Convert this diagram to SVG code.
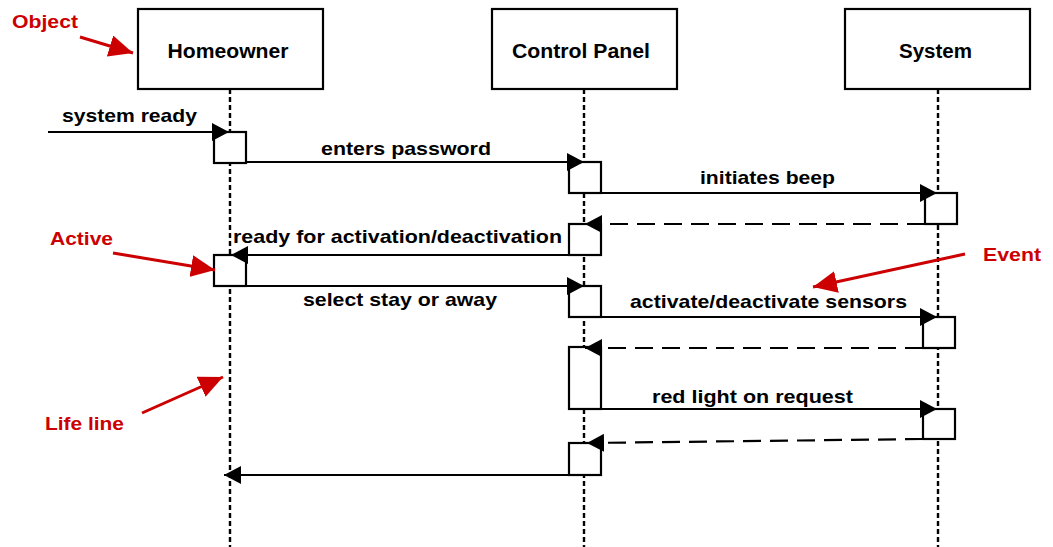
<svg xmlns="http://www.w3.org/2000/svg" width="1053" height="547" viewBox="0 0 1053 547">
<defs>
<style>
.obj{fill:#fff;stroke:#000;stroke-width:2.2}
.act{fill:#fff;stroke:#000;stroke-width:2.2}
.life{stroke:#000;stroke-width:2.4;stroke-dasharray:5 3;fill:none}
.msg{stroke:#000;stroke-width:2.2;fill:none;marker-end:url(#ah)}
.ret{stroke:#000;stroke-width:2.2;fill:none;stroke-dasharray:18 9;marker-end:url(#ah)}
.note{stroke:#cc0000;stroke-width:3;fill:none;marker-end:url(#rh)}
.t{font-family:"Liberation Sans",Arial,sans-serif;font-weight:bold;fill:#000}
.lbl{font-size:20px;text-anchor:middle}
.m{font-size:19px}
.r{font-family:"Liberation Sans",Arial,sans-serif;font-weight:bold;font-size:19px;fill:#cc0000}
</style>
<marker id="ah" markerUnits="userSpaceOnUse" markerWidth="17" markerHeight="18" refX="17" refY="9" orient="auto" viewBox="0 0 17 18">
<path d="M0,0 L17,9 L0,18 z" fill="#000"/>
</marker>
<marker id="rh" markerUnits="userSpaceOnUse" markerWidth="24" markerHeight="22" refX="24" refY="11" orient="auto" viewBox="0 0 24 22">
<path d="M0,0 L24,11 L0,22 z" fill="#cc0000"/>
</marker>
</defs>
<rect width="1053" height="547" fill="#fff"/>

<g id="lifelines">
<line class="life" x1="230" y1="89" x2="230" y2="547"/>
<line class="life" x1="584" y1="89" x2="584" y2="547"/>
<line class="life" x1="938" y1="89" x2="938" y2="547"/>
</g>

<g id="homeowner">
<rect class="obj" x="138" y="9" width="185" height="80"/>
<text class="t lbl" x="228" y="58" textLength="121" lengthAdjust="spacingAndGlyphs">Homeowner</text>
</g>
<g id="control-panel">
<rect class="obj" x="492" y="9" width="185" height="80"/>
<text class="t lbl" x="581" y="58" textLength="138" lengthAdjust="spacingAndGlyphs">Control Panel</text>
</g>
<g id="system">
<rect class="obj" x="845" y="9" width="185" height="80"/>
<text class="t lbl" x="935.5" y="58" textLength="73" lengthAdjust="spacingAndGlyphs">System</text>
</g>

<g id="activations">
<rect class="act" x="214" y="132" width="32" height="31"/>
<rect class="act" x="214" y="255" width="32" height="31"/>
<rect class="act" x="569" y="162" width="32" height="31"/>
<rect class="act" x="569" y="224" width="32" height="31"/>
<rect class="act" x="569" y="286" width="32" height="31"/>
<rect class="act" x="569" y="347" width="32" height="62"/>
<rect class="act" x="569" y="443" width="32" height="32"/>
<rect class="act" x="925" y="193" width="32" height="31"/>
<rect class="act" x="923" y="317" width="32" height="31"/>
<rect class="act" x="923" y="409" width="32" height="30"/>
</g>

<g id="connectors">
<line class="msg" x1="48" y1="132" x2="229" y2="132"/>
<line class="msg" x1="246" y1="162" x2="584" y2="162"/>
<line class="msg" x1="601" y1="193" x2="937" y2="193"/>
<line class="ret" x1="925" y1="224" x2="585" y2="224"/>
<line class="msg" x1="569" y1="255" x2="231" y2="255"/>
<line class="msg" x1="246" y1="286" x2="584" y2="286"/>
<line class="msg" x1="601" y1="317" x2="937" y2="317"/>
<line class="ret" x1="923" y1="348" x2="585" y2="348"/>
<line class="msg" x1="601" y1="409" x2="937" y2="409"/>
<line class="ret" x1="923" y1="439" x2="587" y2="443"/>
<line class="msg" x1="569" y1="475" x2="224" y2="475"/>
</g>

<g id="message-labels">
<text class="t m" x="62" y="122" textLength="135" lengthAdjust="spacingAndGlyphs">system ready</text>
<text class="t m" x="321" y="155" textLength="170" lengthAdjust="spacingAndGlyphs">enters password</text>
<text class="t m" x="700" y="184" textLength="135" lengthAdjust="spacingAndGlyphs">initiates beep</text>
<text class="t m" x="233" y="243" textLength="329" lengthAdjust="spacingAndGlyphs">ready for activation/deactivation</text>
<text class="t m" x="303" y="306" textLength="194" lengthAdjust="spacingAndGlyphs">select stay or away</text>
<text class="t m" x="630" y="308" textLength="277" lengthAdjust="spacingAndGlyphs">activate/deactivate sensors</text>
<text class="t m" x="652" y="403" textLength="201" lengthAdjust="spacingAndGlyphs">red light on request</text>
</g>

<g id="annotations">
<text class="r" x="12" y="28" textLength="66" lengthAdjust="spacingAndGlyphs">Object</text>
<line class="note" x1="80" y1="37" x2="133" y2="53"/>
<text class="r" x="50" y="245" textLength="63" lengthAdjust="spacingAndGlyphs">Active</text>
<line class="note" x1="113" y1="253" x2="215" y2="270"/>
<text class="r" x="983" y="261" textLength="58" lengthAdjust="spacingAndGlyphs">Event</text>
<line class="note" x1="965" y1="254" x2="813" y2="287"/>
<text class="r" x="45" y="430" textLength="79" lengthAdjust="spacingAndGlyphs">Life line</text>
<line class="note" x1="142" y1="413" x2="223" y2="377"/>
</g>
</svg>
